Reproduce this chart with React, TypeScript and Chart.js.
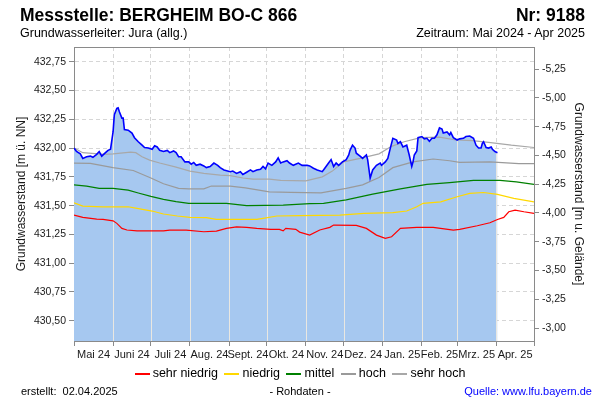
import React, { useEffect, useRef } from 'react';
import { Chart, registerables } from 'chart.js';

Chart.register(...registerables);

// ---- axis / category data ----
const monthLabels = ['Mai 24', 'Juni 24', 'Juli 24', 'Aug. 24', 'Sept. 24', 'Okt. 24', 'Nov. 24', 'Dez. 24', 'Jan. 25', 'Feb. 25', 'Mrz. 25', 'Apr. 25'];
// day offsets (from 01.05.2024) of month starts
const monthStartDays = [0, 31, 61, 92, 123, 153, 184, 214, 245, 276, 304, 335, 365];
const leftTicks = [430.5, 430.75, 431.0, 431.25, 431.5, 431.75, 432.0, 432.25, 432.5, 432.75];
const rightTicks = [-5.25, -5.0, -4.75, -4.5, -4.25, -4.0, -3.75, -3.5, -3.25, -3.0];
const leftMin = 430.324;
const leftMax = 432.878;
const rightMin = -5.442;
const rightMax = -2.888;

// ---- measured groundwater level (m ü. NN) ----
const levelDays = [
  0, 2, 5, 7, 10, 13, 15, 18, 20, 22,
  25, 27, 29, 31, 32, 34, 35, 36, 38, 39,
  40, 43, 46, 48, 51, 54, 56, 59, 62, 64,
  66, 68, 71, 74, 76, 79, 81, 83, 85, 88,
  91, 93, 95, 97, 100, 103, 105, 108, 111, 114,
  116, 119, 124, 126, 129, 132, 134, 137, 140, 142,
  145, 148, 150, 152, 154, 157, 160, 162, 164, 166,
  169, 171, 174, 178, 181, 185, 187, 190, 193, 197,
  199, 202, 204, 206, 208, 210, 213, 216, 218, 219,
  221, 223, 224, 227, 229, 232, 233, 235, 237, 240,
  243, 244, 247, 249, 251, 253, 256, 257, 259, 261,
  264, 266, 268, 269, 270, 272, 273, 276, 278, 280,
  282, 284, 286, 288, 290, 292, 293, 296, 298, 299,
  301, 304, 306, 309, 311, 314, 317, 319, 321, 323,
  324, 325, 327, 329, 331, 332, 334, 336,
];
const levelValues = [
  432.00, 431.97, 431.95, 431.91, 431.925, 431.93, 431.92, 431.945, 431.97, 431.93,
  431.96, 431.98, 431.99, 432.14, 432.29, 432.345, 432.35, 432.315, 432.26, 432.26,
  432.16, 432.155, 432.13, 432.09, 432.055, 432.025, 432.005, 432.00, 431.99, 432.02,
  432.01, 431.98, 431.97, 431.98, 431.96, 431.975, 431.96, 431.925, 431.925, 431.88,
  431.88, 431.86, 431.875, 431.85, 431.86, 431.845, 431.83, 431.84, 431.87, 431.85,
  431.83, 431.81, 431.795, 431.80, 431.78, 431.795, 431.77, 431.79, 431.81, 431.795,
  431.81, 431.815, 431.84, 431.82, 431.87, 431.85, 431.88, 431.915, 431.87, 431.88,
  431.89, 431.87, 431.85, 431.87, 431.85, 431.85, 431.845, 431.825, 431.81, 431.795,
  431.825, 431.87, 431.90, 431.84, 431.87, 431.85, 431.88, 431.90, 431.94, 431.98,
  432.025, 432.00, 431.955, 431.93, 431.91, 431.94, 431.90, 431.74, 431.81, 431.85,
  431.87, 431.85, 431.88, 431.91, 432.00, 432.085, 432.07, 432.04, 432.055, 432.01,
  432.025, 431.94, 431.84, 431.88, 431.94, 431.975, 432.09, 432.10, 432.08, 432.085,
  432.06, 432.085, 432.085, 432.115, 432.175, 432.165, 432.13, 432.14, 432.115, 432.135,
  432.09, 432.07, 432.08, 432.085, 432.10, 432.105, 432.085, 432.025, 432.00, 432.00,
  432.04, 432.055, 432.005, 432.00, 432.01, 431.99, 431.97, 431.96,
];

// ---- statistic lines ----
const sehrHochDays = [0, 7, 24, 31, 45, 49, 54, 60, 68, 81, 92, 103, 116, 124, 134, 142, 155, 164, 184, 197, 205, 214, 227, 242, 252, 262, 275, 290, 303, 316, 329, 347, 365];
const sehrHochValues = [432.00, 431.96, 431.945, 431.95, 431.965, 431.96, 431.925, 431.895, 431.87, 431.835, 431.80, 431.78, 431.765, 431.76, 431.74, 431.73, 431.73, 431.72, 431.715, 431.75, 431.80, 431.88, 431.91, 431.95, 432.015, 432.055, 432.09, 432.095, 432.07, 432.065, 432.05, 432.025, 432.005];

const hochDays = [0, 13, 31, 47, 61, 71, 83, 91, 103, 109, 124, 136, 155, 172, 196, 216, 229, 242, 253, 269, 285, 298, 306, 330, 353, 365];
const hochValues = [431.87, 431.867, 431.83, 431.805, 431.74, 431.69, 431.65, 431.645, 431.645, 431.67, 431.67, 431.655, 431.62, 431.615, 431.61, 431.65, 431.68, 431.745, 431.83, 431.88, 431.905, 431.89, 431.876, 431.88, 431.865, 431.865];

const mittelDays = [0, 10, 20, 31, 43, 51, 61, 71, 81, 91, 121, 137, 166, 187, 198, 216, 237, 259, 280, 298, 317, 338, 351, 365];
const mittelValues = [431.68, 431.67, 431.65, 431.65, 431.635, 431.61, 431.58, 431.555, 431.535, 431.52, 431.52, 431.50, 431.505, 431.518, 431.52, 431.55, 431.60, 431.645, 431.685, 431.70, 431.72, 431.72, 431.707, 431.685];

const niedrigDays = [0, 7, 23, 43, 50, 62, 71, 82, 92, 105, 113, 145, 150, 161, 179, 211, 230, 253, 264, 272, 277, 291, 304, 314, 325, 336, 349, 365];
const niedrigValues = [431.525, 431.496, 431.49, 431.49, 431.476, 431.453, 431.427, 431.41, 431.398, 431.395, 431.38, 431.38, 431.39, 431.41, 431.414, 431.418, 431.433, 431.44, 431.453, 431.49, 431.52, 431.533, 431.577, 431.606, 431.614, 431.597, 431.563, 431.533];

const sehrNiedrigDays = [0, 7, 18, 23, 31, 34, 38, 42, 50, 71, 76, 89, 103, 113, 121, 129, 137, 145, 156, 163, 166, 168, 176, 179, 187, 195, 203, 206, 224, 232, 240, 247, 252, 259, 272, 285, 301, 306, 320, 330, 336, 341, 345, 350, 357, 365];
const sehrNiedrigValues = [431.418, 431.398, 431.383, 431.38, 431.368, 431.346, 431.302, 431.288, 431.281, 431.281, 431.288, 431.288, 431.273, 431.279, 431.302, 431.316, 431.311, 431.302, 431.294, 431.294, 431.281, 431.302, 431.294, 431.27, 431.244, 431.288, 431.311, 431.331, 431.328, 431.302, 431.244, 431.215, 431.23, 431.302, 431.311, 431.311, 431.288, 431.294, 431.325, 431.351, 431.38, 431.398, 431.447, 431.461, 431.447, 431.433];

const legendItems = [
  { label: 'sehr niedrig', color: '#ff0000' },
  { label: 'niedrig', color: '#ffd800' },
  { label: 'mittel', color: '#008000' },
  { label: 'hoch', color: '#9a9a9a' },
  { label: 'sehr hoch', color: '#a8a8a8' },
];

const FONT = "'Liberation Sans', Arial, Helvetica, sans-serif";
const FILL_COLOR = '#a6c8f0';
const AXIS_COLOR = '#8a8a8a';
const GRID_COLOR = '#d6d6d6';

const toPoints = (days: number[], values: number[]) => days.map((d, i) => ({ x: d, y: values[i] }));
const fmt = (v: number) => v.toFixed(2).replace('.', ',');

const monthMid = monthLabels.map((_, i) => (monthStartDays[i] + monthStartDays[i + 1]) / 2);
const midLabel = new Map<number, string>(monthMid.map((m, i) => [m, monthLabels[i]]));
const boundarySet = new Set<number>(monthStartDays);

const fillGridPlugin = {
  id: 'fillGrid',
  afterDatasetDraw(chart: any, args: any) {
    if (chart.data.datasets[args.index]?.label !== 'fill') return;
    const meta = chart.getDatasetMeta(args.index);
    const pts = meta.data;
    if (!pts.length) return;
    const { ctx, chartArea, scales } = chart;
    ctx.save();
    ctx.beginPath();
    ctx.moveTo(pts[0].x, chartArea.bottom);
    pts.forEach((p: any) => ctx.lineTo(p.x, p.y));
    ctx.lineTo(pts[pts.length - 1].x, chartArea.bottom);
    ctx.closePath();
    ctx.clip();
    ctx.strokeStyle = '#e9e7e1';
    ctx.lineWidth = 1;
    monthStartDays.slice(1, -1).forEach((d) => {
      const x = Math.round(scales.x.getPixelForValue(d)) + 0.5;
      ctx.beginPath();
      ctx.moveTo(x, chartArea.top);
      ctx.lineTo(x, chartArea.bottom);
      ctx.stroke();
    });
    ctx.restore();
  },
  afterDraw(chart: any) {
    const { ctx, chartArea } = chart;
    ctx.save();
    ctx.strokeStyle = AXIS_COLOR;
    ctx.lineWidth = 1;
    ctx.beginPath();
    const y = Math.round(chartArea.top) + 0.5;
    ctx.moveTo(chartArea.left, y);
    ctx.lineTo(chartArea.right, y);
    ctx.stroke();
    ctx.restore();
  },
};

function GwChart() {
  const ref = useRef<HTMLCanvasElement | null>(null);
  useEffect(() => {
    if (!ref.current) return;
    const lineDs = (label: string, days: number[], values: number[], color: string, order: number) => ({
      label,
      data: toPoints(days, values),
      borderColor: color,
      backgroundColor: color,
      borderWidth: 1.2,
      pointRadius: 0,
      fill: false,
      tension: 0,
      order,
      yAxisID: 'y',
    });
    const chart = new Chart(ref.current, {
      type: 'line',
      data: {
        datasets: [
          {
            label: 'level',
            data: toPoints(levelDays, levelValues),
            borderColor: '#0000ff',
            borderWidth: 1.6,
            pointRadius: 0,
            fill: false,
            tension: 0,
            order: 1,
            yAxisID: 'y',
          },
          lineDs('sehr hoch', sehrHochDays, sehrHochValues, '#a8a8a8', 2),
          lineDs('hoch', hochDays, hochValues, '#9a9a9a', 3),
          lineDs('mittel', mittelDays, mittelValues, '#008000', 4),
          lineDs('niedrig', niedrigDays, niedrigValues, '#ffd800', 5),
          lineDs('sehr niedrig', sehrNiedrigDays, sehrNiedrigValues, '#ff0000', 6),
          {
            label: 'fill',
            data: toPoints(levelDays, levelValues),
            borderColor: 'rgba(0,0,0,0)',
            borderWidth: 0,
            backgroundColor: FILL_COLOR,
            pointRadius: 0,
            fill: 'start',
            tension: 0,
            order: 20,
            yAxisID: 'y',
          },
        ],
      },
      options: {
        animation: false,
        responsive: false,
        maintainAspectRatio: false,
        layout: { padding: { top: 47, left: 0, right: 0, bottom: 0 } },
        plugins: { legend: { display: false }, tooltip: { enabled: false }, title: { display: false } },
        scales: {
          x: {
            type: 'linear',
            position: 'bottom',
            min: monthStartDays[0],
            max: monthStartDays[monthStartDays.length - 1],
            afterBuildTicks: (scale: any) => {
              const vals = [...monthStartDays, ...monthMid].sort((a, b) => a - b);
              scale.ticks = vals.map((v) => ({ value: v }));
            },
            afterFit: (scale: any) => {
              scale.height = 59;
            },
            grid: {
              color: (c: any) => (c.tick && boundarySet.has(c.tick.value) ? GRID_COLOR : 'rgba(0,0,0,0)'),
              tickColor: (c: any) => (c.tick && boundarySet.has(c.tick.value) ? AXIS_COLOR : 'rgba(0,0,0,0)'),
              tickLength: 5,
              lineWidth: 1,
            },
            border: { display: true, color: AXIS_COLOR, width: 1, dash: [4, 3] },
            ticks: {
              autoSkip: false,
              maxRotation: 0,
              minRotation: 0,
              padding: 2,
              color: '#1a1a1a',
              font: { family: FONT, size: 11 },
              callback: (v: any) => midLabel.get(Number(v)) ?? '',
            },
          },
          y: {
            type: 'linear',
            position: 'left',
            min: leftMin,
            max: leftMax,
            afterBuildTicks: (scale: any) => {
              scale.ticks = leftTicks.map((v) => ({ value: v }));
            },
            afterFit: (scale: any) => {
              scale.width = 74;
            },
            grid: { color: GRID_COLOR, tickColor: AXIS_COLOR, tickLength: 5, lineWidth: 1 },
            border: { display: true, color: AXIS_COLOR, width: 1, dash: [4, 3] },
            ticks: {
              padding: 3,
              color: '#1a1a1a',
              font: { family: FONT, size: 10.5 },
              callback: (v: any) => fmt(Number(v)),
            },
            title: {
              display: true,
              text: 'Grundwasserstand [m ü. NN]',
              color: '#1a1a1a',
              font: { family: FONT, size: 12 },
              padding: { top: 14, bottom: 0 },
            },
          },
          y2: {
            type: 'linear',
            position: 'right',
            reverse: true,
            min: rightMin,
            max: rightMax,
            afterBuildTicks: (scale: any) => {
              scale.ticks = rightTicks.map((v) => ({ value: v }));
            },
            afterFit: (scale: any) => {
              scale.width = 66;
            },
            grid: { drawOnChartArea: false, tickColor: AXIS_COLOR, tickLength: 5 },
            border: { display: true, color: AXIS_COLOR, width: 1 },
            ticks: {
              padding: 3,
              color: '#1a1a1a',
              font: { family: FONT, size: 10.5 },
              callback: (v: any) => fmt(Number(v)),
            },
            title: {
              display: true,
              text: 'Grundwasserstand [m u. Gelände]',
              color: '#1a1a1a',
              font: { family: FONT, size: 12 },
              padding: { top: 14, bottom: 0 },
            },
          },
        },
      },
      plugins: [fillGridPlugin],
    } as any);
    return () => chart.destroy();
  }, []);
  return <canvas ref={ref} width={600} height={400} style={{ position: 'absolute', left: 0, top: 0, width: 600, height: 400 }} />;
}

export default function App() {
  const abs = (s: React.CSSProperties): React.CSSProperties => ({ position: 'absolute', whiteSpace: 'pre', lineHeight: 1.15, ...s });
  return (
    <div style={{ position: 'fixed', left: 0, top: 0, width: 600, height: 400, background: '#fff', fontFamily: FONT, color: '#000', overflow: 'hidden' }}>
      <GwChart />
      <div style={abs({ left: 20, top: 5, fontSize: 17.5, fontWeight: 'bold' })}>Messstelle: BERGHEIM BO-C 866</div>
      <div style={abs({ right: 15, top: 5, fontSize: 17.5, fontWeight: 'bold' })}>Nr: 9188</div>
      <div style={abs({ left: 20, top: 26, fontSize: 12.5 })}>Grundwasserleiter: Jura (allg.)</div>
      <div style={abs({ right: 15, top: 26, fontSize: 12.5 })}>Zeitraum: Mai 2024 - Apr 2025</div>
      <div style={{ position: 'absolute', left: 0, width: 600, top: 366, display: 'flex', justifyContent: 'center', alignItems: 'center', fontSize: 12.5, lineHeight: '15px' }}>
        {legendItems.map((it, i) => (
          <div key={it.label} style={{ display: 'flex', alignItems: 'center', marginLeft: i === 0 ? 0 : 6.5 }}>
            <span style={{ display: 'block', width: 15, height: 2, background: it.color, marginRight: 3, flex: '0 0 auto' }} />
            <span>{it.label}</span>
          </div>
        ))}
      </div>
      <div style={abs({ left: 21, top: 385, fontSize: 11 })}>{'erstellt:  02.04.2025'}</div>
      <div style={abs({ left: 0, width: 600, textAlign: 'center', top: 385, fontSize: 11 })}>- Rohdaten -</div>
      <div style={abs({ right: 8, top: 385, fontSize: 11, color: '#0000ff' })}>Quelle: www.lfu.bayern.de</div>
    </div>
  );
}
